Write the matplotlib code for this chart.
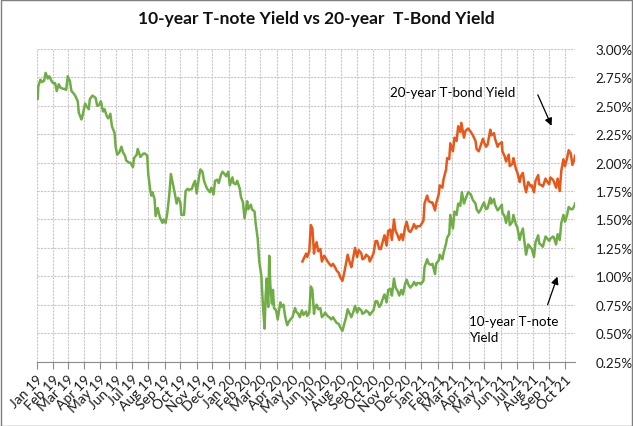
"""
10-year T-note vs 20-year T-bond yield, Excel-style line chart.
"""

import matplotlib
matplotlib.use('Agg')
import matplotlib.pyplot as plt
import matplotlib.dates as mdates
import matplotlib.ticker as mticker
from matplotlib.patches import Rectangle
import pandas as pd

plt.rcParams['font.family'] = ['Lato', 'DejaVu Sans']

# --- colours ---
GREEN = '#70AD47'
ORANGE = '#E8581A'
GRID = '#C8C8C8'
AXIS = '#8C8C8C'

# ============================================================
# data (% yield)
# ============================================================
note_dates = [
    '2019-01-02', '2019-01-03', '2019-01-04', '2019-01-08', '2019-01-11', '2019-01-15', '2019-01-18',
    '2019-01-22', '2019-01-25', '2019-01-29', '2019-02-01', '2019-02-05', '2019-02-08', '2019-02-12',
    '2019-02-15', '2019-02-20', '2019-02-22', '2019-02-26', '2019-03-01', '2019-03-05', '2019-03-08',
    '2019-03-12', '2019-03-15', '2019-03-20', '2019-03-22', '2019-03-27', '2019-03-29', '2019-04-03',
    '2019-04-05', '2019-04-10', '2019-04-12', '2019-04-17', '2019-04-23', '2019-04-26', '2019-04-30',
    '2019-05-03', '2019-05-07', '2019-05-10', '2019-05-14', '2019-05-17', '2019-05-21', '2019-05-24',
    '2019-05-29', '2019-05-31', '2019-06-03', '2019-06-07', '2019-06-11', '2019-06-14', '2019-06-18',
    '2019-06-20', '2019-06-25', '2019-06-28', '2019-07-03', '2019-07-05', '2019-07-10', '2019-07-12',
    '2019-07-17', '2019-07-19', '2019-07-23', '2019-07-26', '2019-07-30', '2019-08-01', '2019-08-05',
    '2019-08-07', '2019-08-09', '2019-08-13', '2019-08-15', '2019-08-19', '2019-08-23', '2019-08-28',
    '2019-08-30', '2019-09-03', '2019-09-06', '2019-09-10', '2019-09-13', '2019-09-17', '2019-09-20',
    '2019-09-24', '2019-09-27', '2019-10-01', '2019-10-03', '2019-10-08', '2019-10-11', '2019-10-15',
    '2019-10-18', '2019-10-23', '2019-10-25', '2019-10-29', '2019-11-01', '2019-11-05', '2019-11-08',
    '2019-11-12', '2019-11-15', '2019-11-19', '2019-11-21', '2019-11-26', '2019-11-29', '2019-12-03',
    '2019-12-06', '2019-12-10', '2019-12-13', '2019-12-17', '2019-12-20', '2019-12-24', '2019-12-27',
    '2019-12-31', '2020-01-03', '2020-01-08', '2020-01-10', '2020-01-14', '2020-01-17', '2020-01-22',
    '2020-01-24', '2020-01-28', '2020-01-31', '2020-02-05', '2020-02-07', '2020-02-12', '2020-02-14',
    '2020-02-19', '2020-02-21', '2020-02-25', '2020-02-28', '2020-03-03', '2020-03-06', '2020-03-09',
    '2020-03-11', '2020-03-13', '2020-03-16', '2020-03-18', '2020-03-20', '2020-03-23', '2020-03-25',
    '2020-03-27', '2020-03-31', '2020-04-03', '2020-04-08', '2020-04-09', '2020-04-14', '2020-04-17',
    '2020-04-21', '2020-04-24', '2020-04-29', '2020-05-01', '2020-05-06', '2020-05-08', '2020-05-12',
    '2020-05-15', '2020-05-19', '2020-05-22', '2020-05-27', '2020-05-29', '2020-06-02', '2020-06-05',
    '2020-06-08', '2020-06-11', '2020-06-12', '2020-06-16', '2020-06-19', '2020-06-23', '2020-06-26',
    '2020-06-30', '2020-07-02', '2020-07-07', '2020-07-10', '2020-07-14', '2020-07-17', '2020-07-21',
    '2020-07-24', '2020-07-28', '2020-07-31', '2020-08-04', '2020-08-07', '2020-08-11', '2020-08-14',
    '2020-08-18', '2020-08-21', '2020-08-25', '2020-08-28', '2020-09-01', '2020-09-04', '2020-09-09',
    '2020-09-11', '2020-09-15', '2020-09-18', '2020-09-23', '2020-09-25', '2020-09-30', '2020-10-02',
    '2020-10-06', '2020-10-09', '2020-10-13', '2020-10-16', '2020-10-21', '2020-10-23', '2020-10-27',
    '2020-10-30', '2020-11-03', '2020-11-06', '2020-11-10', '2020-11-13', '2020-11-17', '2020-11-20',
    '2020-11-24', '2020-11-27', '2020-12-01', '2020-12-04', '2020-12-08', '2020-12-11', '2020-12-15',
    '2020-12-18', '2020-12-22', '2020-12-24', '2020-12-29', '2020-12-31', '2021-01-05', '2021-01-07',
    '2021-01-12', '2021-01-15', '2021-01-20', '2021-01-22', '2021-01-27', '2021-01-29', '2021-02-03',
    '2021-02-05', '2021-02-10', '2021-02-12', '2021-02-17', '2021-02-19', '2021-02-23', '2021-02-25',
    '2021-03-02', '2021-03-05', '2021-03-09', '2021-03-12', '2021-03-16', '2021-03-19', '2021-03-23',
    '2021-03-26', '2021-03-31', '2021-04-05', '2021-04-09', '2021-04-14', '2021-04-16', '2021-04-20',
    '2021-04-23', '2021-04-28', '2021-04-30', '2021-05-04', '2021-05-07', '2021-05-12', '2021-05-14',
    '2021-05-19', '2021-05-21', '2021-05-26', '2021-05-28', '2021-06-03', '2021-06-04', '2021-06-08',
    '2021-06-11', '2021-06-16', '2021-06-18', '2021-06-23', '2021-06-25', '2021-06-30', '2021-07-02',
    '2021-07-07', '2021-07-09', '2021-07-13', '2021-07-16', '2021-07-19', '2021-07-23', '2021-07-28',
    '2021-07-30', '2021-08-03', '2021-08-06', '2021-08-11', '2021-08-13', '2021-08-18', '2021-08-20',
    '2021-08-25', '2021-08-27', '2021-09-01', '2021-09-03', '2021-09-08', '2021-09-10', '2021-09-14',
    '2021-09-17', '2021-09-21', '2021-09-24', '2021-09-28', '2021-10-01', '2021-10-05', '2021-10-08',
    '2021-10-12', '2021-10-15', '2021-10-19', '2021-10-20',
]
note_yield = [
    2.66, 2.56, 2.67, 2.73, 2.71, 2.72, 2.79,
    2.74, 2.76, 2.72, 2.70, 2.70, 2.63, 2.69,
    2.66, 2.65, 2.65, 2.64, 2.76, 2.72, 2.63,
    2.61, 2.59, 2.54, 2.44, 2.38, 2.41, 2.52,
    2.50, 2.47, 2.56, 2.59, 2.57, 2.50, 2.51,
    2.54, 2.45, 2.47, 2.41, 2.39, 2.43, 2.32,
    2.26, 2.14, 2.07, 2.09, 2.14, 2.09, 2.06,
    2.02, 2.00, 2.00, 1.96, 2.04, 2.07, 2.12,
    2.05, 2.06, 2.08, 2.08, 2.06, 1.90, 1.75,
    1.71, 1.74, 1.68, 1.53, 1.60, 1.52, 1.47,
    1.50, 1.47, 1.55, 1.72, 1.90, 1.81, 1.74,
    1.64, 1.69, 1.65, 1.54, 1.54, 1.75, 1.77,
    1.76, 1.77, 1.80, 1.84, 1.73, 1.86, 1.94,
    1.92, 1.84, 1.79, 1.77, 1.74, 1.78, 1.72,
    1.84, 1.85, 1.82, 1.89, 1.92, 1.90, 1.88,
    1.92, 1.80, 1.87, 1.82, 1.81, 1.84, 1.77,
    1.70, 1.65, 1.51, 1.66, 1.59, 1.63, 1.59,
    1.57, 1.47, 1.33, 1.13, 1.00, 0.74, 0.54,
    0.82, 0.98, 0.73, 1.18, 0.92, 0.76, 0.88,
    0.72, 0.70, 0.62, 0.77, 0.73, 0.75, 0.65,
    0.57, 0.60, 0.63, 0.64, 0.72, 0.69, 0.67,
    0.64, 0.70, 0.66, 0.69, 0.65, 0.68, 0.91,
    0.88, 0.67, 0.71, 0.75, 0.71, 0.72, 0.64,
    0.66, 0.68, 0.65, 0.64, 0.62, 0.64, 0.61,
    0.59, 0.58, 0.55, 0.52, 0.57, 0.64, 0.71,
    0.67, 0.64, 0.69, 0.74, 0.68, 0.72, 0.70,
    0.67, 0.68, 0.70, 0.68, 0.66, 0.69, 0.70,
    0.78, 0.78, 0.73, 0.75, 0.82, 0.84, 0.77,
    0.88, 0.89, 0.83, 0.98, 0.90, 0.87, 0.83,
    0.88, 0.84, 0.93, 0.97, 0.92, 0.90, 0.92,
    0.95, 0.92, 0.94, 0.94, 0.93, 0.96, 1.08,
    1.15, 1.11, 1.10, 1.11, 1.02, 1.11, 1.14,
    1.19, 1.15, 1.20, 1.29, 1.34, 1.37, 1.54,
    1.42, 1.57, 1.54, 1.64, 1.62, 1.74, 1.64,
    1.68, 1.74, 1.72, 1.67, 1.64, 1.59, 1.56,
    1.58, 1.63, 1.65, 1.59, 1.60, 1.69, 1.64,
    1.68, 1.63, 1.58, 1.59, 1.63, 1.56, 1.53,
    1.47, 1.57, 1.45, 1.48, 1.54, 1.45, 1.44,
    1.32, 1.37, 1.42, 1.30, 1.19, 1.28, 1.25,
    1.24, 1.17, 1.30, 1.36, 1.29, 1.27, 1.26,
    1.35, 1.34, 1.31, 1.33, 1.35, 1.34, 1.28,
    1.37, 1.32, 1.47, 1.54, 1.48, 1.54, 1.61,
    1.59, 1.59, 1.62, 1.64,
]

bond_dates = [
    '2020-05-20', '2020-05-22', '2020-05-27', '2020-05-29', '2020-06-02', '2020-06-05', '2020-06-08',
    '2020-06-11', '2020-06-12', '2020-06-16', '2020-06-19', '2020-06-23', '2020-06-26', '2020-06-30',
    '2020-07-02', '2020-07-07', '2020-07-10', '2020-07-14', '2020-07-17', '2020-07-21', '2020-07-24',
    '2020-07-28', '2020-07-31', '2020-08-04', '2020-08-07', '2020-08-11', '2020-08-14', '2020-08-18',
    '2020-08-21', '2020-08-25', '2020-08-28', '2020-09-01', '2020-09-04', '2020-09-09', '2020-09-11',
    '2020-09-15', '2020-09-18', '2020-09-23', '2020-09-25', '2020-09-30', '2020-10-02', '2020-10-06',
    '2020-10-09', '2020-10-13', '2020-10-16', '2020-10-21', '2020-10-23', '2020-10-27', '2020-10-30',
    '2020-11-03', '2020-11-06', '2020-11-10', '2020-11-13', '2020-11-17', '2020-11-20', '2020-11-24',
    '2020-11-27', '2020-12-01', '2020-12-04', '2020-12-08', '2020-12-11', '2020-12-15', '2020-12-18',
    '2020-12-22', '2020-12-24', '2020-12-29', '2020-12-31', '2021-01-05', '2021-01-07', '2021-01-12',
    '2021-01-15', '2021-01-20', '2021-01-22', '2021-01-27', '2021-01-29', '2021-02-03', '2021-02-05',
    '2021-02-10', '2021-02-12', '2021-02-17', '2021-02-19', '2021-02-23', '2021-02-25', '2021-03-02',
    '2021-03-05', '2021-03-09', '2021-03-12', '2021-03-16', '2021-03-18', '2021-03-23', '2021-03-26',
    '2021-03-31', '2021-04-05', '2021-04-09', '2021-04-14', '2021-04-16', '2021-04-20', '2021-04-23',
    '2021-04-28', '2021-04-30', '2021-05-04', '2021-05-07', '2021-05-12', '2021-05-14', '2021-05-19',
    '2021-05-21', '2021-05-26', '2021-05-28', '2021-06-03', '2021-06-04', '2021-06-08', '2021-06-11',
    '2021-06-16', '2021-06-18', '2021-06-23', '2021-06-25', '2021-06-30', '2021-07-02', '2021-07-07',
    '2021-07-09', '2021-07-13', '2021-07-16', '2021-07-19', '2021-07-23', '2021-07-28', '2021-07-30',
    '2021-08-03', '2021-08-06', '2021-08-11', '2021-08-13', '2021-08-18', '2021-08-20', '2021-08-25',
    '2021-08-27', '2021-09-01', '2021-09-03', '2021-09-08', '2021-09-10', '2021-09-14', '2021-09-17',
    '2021-09-21', '2021-09-24', '2021-09-28', '2021-10-01', '2021-10-05', '2021-10-08', '2021-10-12',
    '2021-10-15', '2021-10-19', '2021-10-20',
]
bond_yield = [
    1.13, 1.15, 1.20, 1.17, 1.22, 1.45, 1.42,
    1.20, 1.24, 1.30, 1.22, 1.24, 1.13, 1.18,
    1.17, 1.13, 1.11, 1.09, 1.11, 1.08, 1.05,
    1.03, 0.99, 0.96, 1.02, 1.12, 1.19, 1.12,
    1.08, 1.18, 1.25, 1.17, 1.23, 1.20, 1.15,
    1.16, 1.19, 1.17, 1.13, 1.18, 1.20, 1.31,
    1.31, 1.24, 1.24, 1.33, 1.36, 1.27, 1.40,
    1.41, 1.32, 1.50, 1.40, 1.36, 1.32, 1.37,
    1.32, 1.43, 1.48, 1.40, 1.39, 1.42, 1.46,
    1.42, 1.44, 1.44, 1.45, 1.49, 1.64, 1.71,
    1.66, 1.65, 1.65, 1.58, 1.64, 1.72, 1.80,
    1.78, 1.85, 1.94, 2.04, 2.03, 2.17, 2.10,
    2.22, 2.19, 2.32, 2.27, 2.35, 2.22, 2.28,
    2.30, 2.27, 2.24, 2.19, 2.12, 2.10, 2.14,
    2.21, 2.18, 2.14, 2.16, 2.29, 2.24, 2.26,
    2.21, 2.14, 2.16, 2.18, 2.10, 2.06, 2.01,
    2.07, 1.97, 1.99, 2.04, 1.94, 1.92, 1.83,
    1.88, 1.91, 1.80, 1.74, 1.83, 1.79, 1.80,
    1.74, 1.84, 1.89, 1.81, 1.80, 1.79, 1.86,
    1.84, 1.81, 1.87, 1.85, 1.83, 1.78, 1.86,
    1.75, 1.93, 2.03, 1.97, 2.04, 2.11, 2.08,
    1.98, 2.03, 2.06,
]

y_ticks = [0.25, 0.50, 0.75, 1.00, 1.25, 1.50, 1.75, 2.00, 2.25, 2.50, 2.75, 3.00]
TITLE = '10-year T-note Yield vs 20-year  T-Bond Yield'

W, H = 633, 427


def px(x, y):
    # image pixel (top-left origin) -> figure fraction
    return x / W, 1 - y / H


# ============================================================
# plot
# ============================================================
note = pd.Series(note_yield, index=pd.to_datetime(note_dates))
bond = pd.Series(bond_yield, index=pd.to_datetime(bond_dates))

fig = plt.figure(figsize=(W / 100, H / 100), dpi=100)
ax = fig.add_axes([36.7 / W, 1 - 362.5 / H, (575 - 36.7) / W, (362.5 - 50) / H])

ax.plot(note.index, note.values, color=GREEN, lw=1.8, solid_joinstyle='round')
ax.plot(bond.index, bond.values, color=ORANGE, lw=1.8, solid_joinstyle='round')

ax.set_xlim(pd.Timestamp('2019-01-01'), pd.Timestamp('2021-10-20'))
ax.set_ylim(y_ticks[0], y_ticks[-1])

ax.xaxis.set_major_locator(mdates.MonthLocator())
ax.xaxis.set_major_formatter(mdates.DateFormatter('%b %y'))
plt.setp(ax.get_xticklabels(), rotation=45, ha='right', va='top',
         rotation_mode='anchor', fontsize=10)
ax.tick_params(axis='x', length=5, color=AXIS, pad=3, labelcolor='#1A1A1A')

ax.yaxis.tick_right()
ax.set_yticks(y_ticks)
ax.yaxis.set_major_formatter(mticker.FuncFormatter(lambda v, _: f'{v:.2f}%'))
ax.tick_params(axis='y', length=0, pad=15, labelsize=9.6, labelcolor='#1A1A1A')

ax.grid(True, color=GRID, lw=0.8, linestyle=(0, (2, 1)))
ax.set_axisbelow(True)
for s in ['top', 'left', 'right']:
    ax.spines[s].set_visible(False)
ax.spines['bottom'].set_color(AXIS)

fig.text(0.5, 1 - 19 / H, TITLE, ha='center', va='center',
         fontsize=12.5, fontweight='bold', color='#111111')

# annotations
fig.text(*px(390, 93), '20-year T-bond Yield', ha='left', va='center', fontsize=9.6)
ax.annotate('', xy=px(552.7, 129.3), xytext=px(536.7, 93.3),
            xycoords='figure fraction', textcoords='figure fraction',
            arrowprops=dict(arrowstyle='-|>', color='black', lw=0.9, mutation_scale=11))

fig.text(*px(469, 316), '10-year T-note\nYield', ha='left', va='top',
         fontsize=9.6, linespacing=1.35)
ax.annotate('', xy=px(558.3, 275), xytext=px(546.7, 308.3),
            xycoords='figure fraction', textcoords='figure fraction',
            arrowprops=dict(arrowstyle='-|>', color='black', lw=0.9, mutation_scale=11))

# chart border
fig.patches.append(Rectangle((0.5 / W, 0.5 / H), 1 - 1.5 / W, 1 - 1.5 / H,
                             transform=fig.transFigure, fill=False,
                             edgecolor='#7F7F7F', lw=1))

fig.savefig('out.png', dpi=100)
